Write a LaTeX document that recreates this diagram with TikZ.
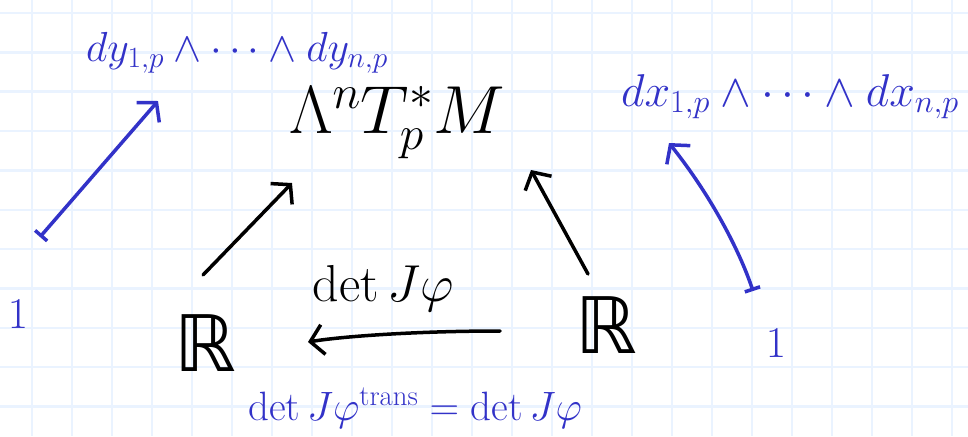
\RequirePackage{fix-cm}
\documentclass[tikz,border=0pt]{standalone}
\usepackage{fontspec}
\newfontfamily\dblfont{DejaVu Sans}
\usetikzlibrary{arrows.meta}
\definecolor{ink}{RGB}{50,50,200}
\definecolor{gridline}{RGB}{234,243,255}
\tikzset{
  pen/.style={line width=3.5pt, line cap=round, line join=round},
  maparrow/.style={pen, black, -{Straight Barb[length=13pt,width=30pt]}},
  mapsto/.style={pen, ink, {Bar[width=16pt]}-{Straight Barb[length=13pt,width=30pt]}},
  txt/.style={anchor=base, inner sep=0pt},
}
\begin{document}
\begin{tikzpicture}[x=1pt, y=-1pt]
  \useasboundingbox (0,0) rectangle (968,436);
  \fill[white] (0,0) rectangle (968,436);
  % squared paper
  \foreach \gx in {32,72,...,952}
    \draw[gridline, line width=2.5pt] (\gx,0) -- (\gx,436);
  \foreach \k in {0,...,10}
    \draw[gridline, line width=2.5pt] (0,13+39.35*\k) -- (968,13+39.35*\k);

  % objects
  \node[txt, font=\fontsize{68}{70}\selectfont] (top) at (397,133) {$\Lambda^{n} T^{*}_{p} M$};
  \node[txt, font=\fontsize{78}{78}\selectfont\dblfont] (rl) at (205,371) {ℝ};
  \node[txt, font=\fontsize{78}{78}\selectfont\dblfont] (rr) at (606,353) {ℝ};
  \node[txt, font=\fontsize{52}{52}\selectfont] (det) at (383,301) {$\det J\varphi$};

  % blue annotations
  \node[txt, ink, font=\fontsize{42}{42}\selectfont] (dy) at (237,61) {$dy_{1,p}\wedge\cdots\wedge dy_{n,p}$};
  \node[txt, ink, font=\fontsize{46}{46}\selectfont] (dx) at (790,106) {$dx_{1,p}\wedge\cdots\wedge dx_{n,p}$};
  \node[txt, ink, font=\fontsize{41}{41}\selectfont] (eq) at (415,420) {$\det J\varphi^{\mathrm{trans}} = \det J\varphi$};
  \node[txt, ink, font=\fontsize{44}{44}\selectfont] (oneL) at (18,328) {$1$};
  \node[txt, ink, font=\fontsize{44}{44}\selectfont] (oneR) at (776,357) {$1$};

  % arrow end points
  \coordinate (la0) at (203,275); \coordinate (la1) at (292,183);
  \coordinate (ra0) at (588,274); \coordinate (ra1) at (531,170);
  \coordinate (ha0) at (500,331); \coordinate (ha1) at (308,342);
  \coordinate (ba0) at (40,237);  \coordinate (ba1) at (158,101);
  \coordinate (bb0) at (753,291); \coordinate (bb1) at (669,143);

  \draw[maparrow] (la0) -- (la1);
  \draw[maparrow] (ra0) -- (ra1);
  \draw[maparrow] (ha0) .. controls (420,331) and (345,336) .. (ha1);
  \draw[mapsto] (ba0) -- (ba1);
  \draw[mapsto] (bb0) .. controls (740,252) and (712,197) .. (bb1);
\end{tikzpicture}
\end{document}
